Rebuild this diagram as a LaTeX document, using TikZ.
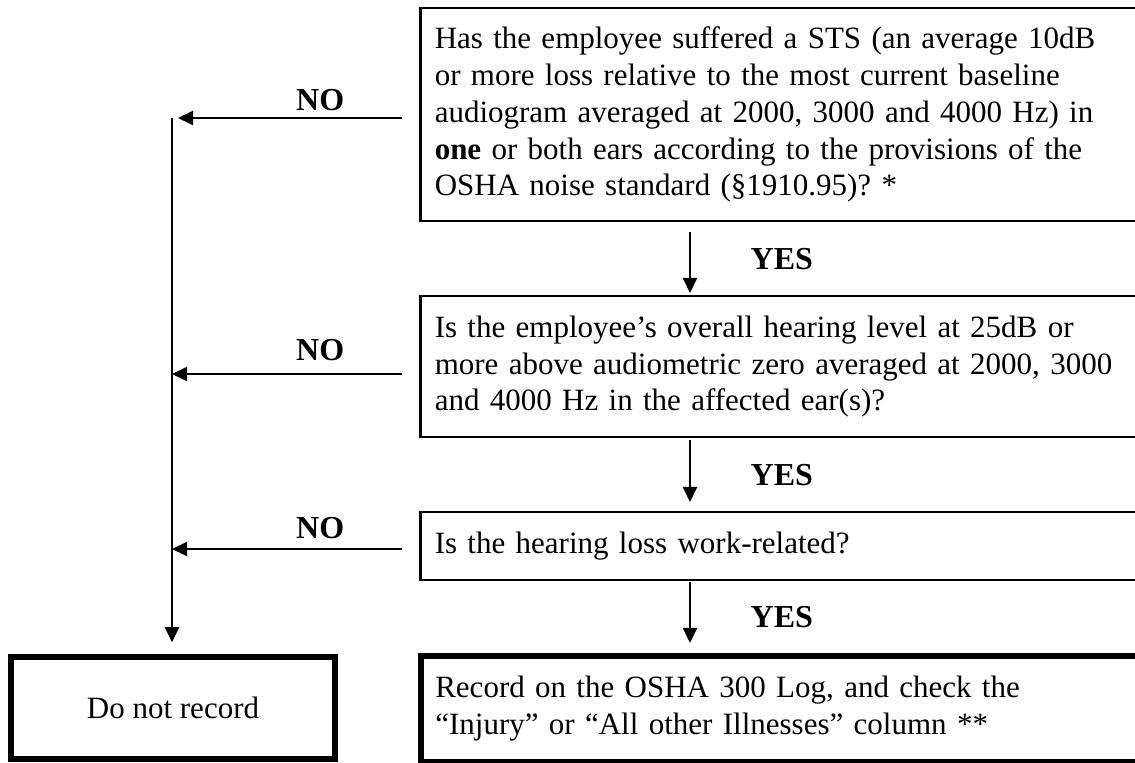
\documentclass[tikz,border=0pt]{standalone}
\usepackage{fontspec}
\setmainfont{Liberation Serif}
\usetikzlibrary{arrows.meta}
\begin{document}
\begin{tikzpicture}[x=0.5pt,y=-0.5pt]
\tikzstyle{every node}=[font=\fontsize{15.5}{18.4}\selectfont\frenchspacing]
\tikzstyle{box}=[draw, rectangle, inner xsep=7pt]
\tikzstyle{question}=[box, line width=1.25pt, anchor=north west, minimum width=365.5pt, text width=351pt, align=left]
\tikzstyle{result}=[question, line width=2.8pt]
\tikzstyle{norecord}=[box, line width=2.8pt, minimum width=162pt, minimum height=51pt]
\tikzstyle{flow}=[line width=1pt, -{Triangle[length=7.5pt,width=7pt]}]
\tikzstyle{answer}=[font=\fontsize{16}{19}\selectfont\bfseries]
	\useasboundingbox (0,0) rectangle (1135,763);

	\node[question, minimum height=106.5pt] (sts) at (419,7) {Has the employee suffered a STS (an average 10dB\\
		or more loss relative to the most current baseline\\
		audiogram averaged at 2000, 3000 and 4000 Hz) in\\
		\textbf{one} or both ears according to the provisions of the\\
		OSHA noise standard (§1910.95)? *};
	\node[question, minimum height=70.5pt] (level) at (419,295) {Is the employee’s overall hearing level at 25dB or\\
		more above audiometric zero averaged at 2000, 3000\\
		and 4000 Hz in the affected ear(s)?};
	\node[question, minimum height=34pt] (work) at (419,511) {Is the hearing loss work-related?};
	\node[result, minimum height=53pt] (record) at (418,653) {Record on the OSHA 300 Log, and check the\\
		“Injury” or “All other Illnesses” column **};
	\node[norecord] (norec) at (173,708) {Do not record};

	\coordinate (trunk) at (172,118);
	\coordinate (j2) at (172,374);
	\coordinate (j3) at (172,549);
	\coordinate (down) at (690,0);

	\draw[flow, shorten <=8.5pt, shorten >=3pt] (sts.west |- trunk) -- node[answer, pos=0.4, above] {NO} (trunk);
	\draw[flow, shorten <=8.5pt] (level.west |- j2) -- node[answer, pos=0.4, above=3pt] {NO} (j2);
	\draw[flow, shorten <=8.5pt] (work.west |- j3) -- node[answer, pos=0.4, above=1.5pt] {NO} (j3);
	\draw[flow, shorten >=6pt] (trunk) -- (trunk |- norec.north);

	\draw[flow, shorten <=5pt, shorten >=1pt] (sts.south -| down) -- node[answer, right=26.5pt] {YES} (level.north -| down);
	\draw[flow, shorten <=1pt, shorten >=4.5pt] (level.south -| down) -- node[answer, right=26.5pt] {YES} (work.north -| down);
	\draw[flow, shorten <=0.5pt, shorten >=5pt] (work.south -| down) -- node[answer, right=26.5pt] {YES} (record.north -| down);
\end{tikzpicture}
\end{document}
